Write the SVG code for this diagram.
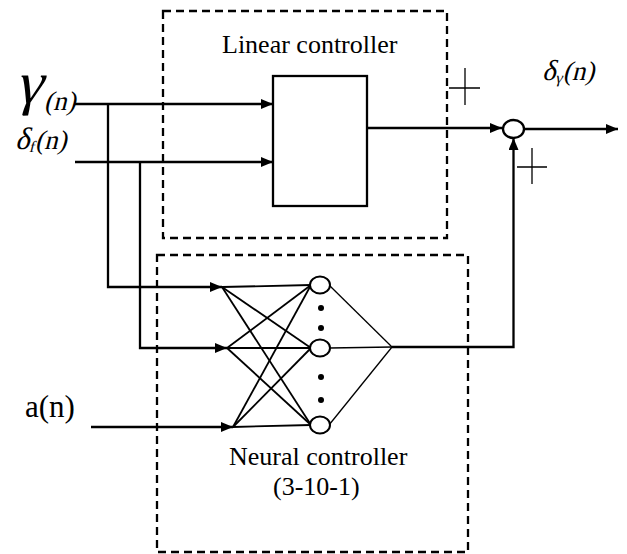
<svg xmlns="http://www.w3.org/2000/svg" width="627" height="554" viewBox="0 0 627 554">
<style>
.ln{stroke:#000;stroke-width:2.3;fill:none}
.thin{stroke:#000;stroke-width:1.8;fill:none}
.hair{stroke:#000;stroke-width:1.3;fill:none}
.dash{stroke:#000;stroke-width:2.3;fill:none;stroke-dasharray:8 5}
.t{font-family:"Liberation Serif","Times New Roman",serif;fill:#000}
</style>
<defs>
<marker id="ah" viewBox="0 0 12 10" refX="12" refY="5" markerWidth="12" markerHeight="10" markerUnits="userSpaceOnUse" orient="auto">
<path d="M0,0 L12,5 L0,10 Z" fill="#000"/>
</marker>
</defs>
<rect width="627" height="554" fill="#fff"/>

<g id="linear-controller">
<rect class="dash" x="163" y="11" width="284" height="227"/>
<text class="t" x="222" y="53" font-size="26">Linear controller</text>
<rect class="ln" x="273" y="76" width="94" height="130"/>
</g>

<g id="neural-controller">
<rect class="dash" x="157" y="255" width="311" height="297"/>
<text class="t" x="229" y="465" font-size="26">Neural controller</text>
<text class="t" x="273" y="495" font-size="26">(3-10-1)</text>
<g class="thin">
<line x1="222" y1="287" x2="311" y2="285"/>
<line x1="222" y1="287" x2="311" y2="348"/>
<line x1="222" y1="287" x2="311" y2="425"/>
<line x1="227" y1="348" x2="311" y2="285"/>
<line x1="227" y1="348" x2="311" y2="348"/>
<line x1="227" y1="348" x2="311" y2="425"/>
<line x1="233" y1="427" x2="311" y2="285"/>
<line x1="233" y1="427" x2="311" y2="348"/>
<line x1="233" y1="427" x2="311" y2="425"/>
</g>
<g class="hair">
<line x1="329" y1="285" x2="392" y2="347"/>
<line x1="330" y1="348" x2="392" y2="347"/>
<line x1="329" y1="425" x2="392" y2="347"/>
</g>
<g id="neurons" fill="#fff" stroke="#000" stroke-width="2">
<ellipse cx="320" cy="285" rx="10" ry="8.5"/>
<ellipse cx="320" cy="348" rx="10" ry="8.5"/>
<ellipse cx="320" cy="425" rx="10" ry="8.5"/>
</g>
<g fill="#000">
<circle cx="321" cy="308" r="3"/>
<circle cx="321" cy="328" r="3"/>
<circle cx="321" cy="377" r="3"/>
<circle cx="321" cy="400" r="3"/>
</g>
</g>

<g id="sum-junction">
<ellipse cx="513.5" cy="129" rx="10.5" ry="9" fill="#fff" stroke="#000" stroke-width="2.3"/>
<path class="hair" d="M449,88 H480 M465,68 V105"/>
<path class="hair" d="M517,167 H547 M532,148 V184"/>
</g>

<g id="labels">
<text class="t" transform="translate(15,103) skewX(-14)" font-size="60">γ</text>
<text class="t" transform="translate(44,110) skewX(-14)" font-size="27">(n)</text>
<text class="t" transform="translate(15,149) skewX(-14)" font-size="31">δ<tspan font-size="16" dy="3">f</tspan><tspan font-size="27" dy="-3">(n)</tspan></text>
<text class="t" transform="translate(542,80) skewX(-14)" font-size="29">δ<tspan font-size="16" dy="3">γ</tspan><tspan font-size="27" dy="-3">(n)</tspan></text>
<text class="t" x="25" y="417" font-size="31">a(n)</text>
</g>

<g id="connectors" class="ln">
<line x1="75" y1="104" x2="273" y2="104" marker-end="url(#ah)"/>
<line x1="75" y1="162" x2="273" y2="162" marker-end="url(#ah)"/>
<polyline points="108,104 108,287 222,287" marker-end="url(#ah)"/>
<polyline points="140,162 140,348 227,348" marker-end="url(#ah)"/>
<line x1="91" y1="427" x2="233" y2="427" marker-end="url(#ah)"/>
<line x1="367" y1="128" x2="502" y2="128" marker-end="url(#ah)"/>
<polyline points="392,347 513.5,347 513.5,138" marker-end="url(#ah)"/>
<line x1="524" y1="129" x2="618" y2="129" marker-end="url(#ah)"/>
</g>
</svg>
